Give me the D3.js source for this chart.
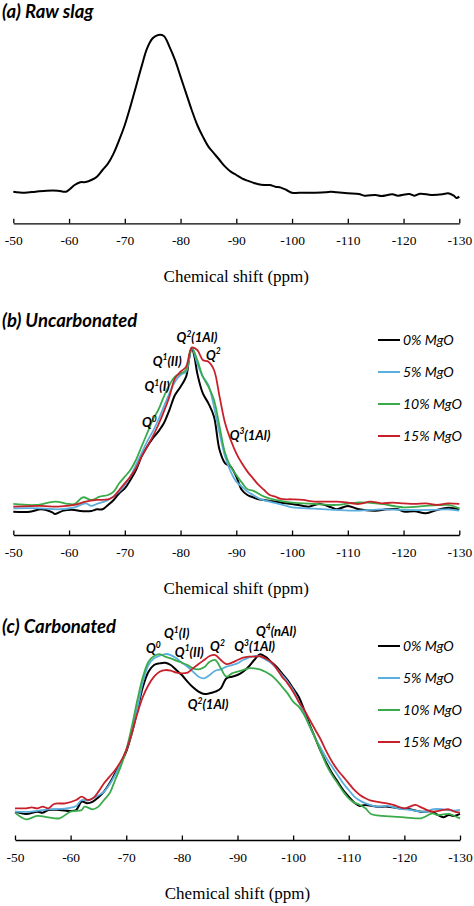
<!DOCTYPE html>
<html>
<head>
<meta charset="utf-8">
<script src="https://cdn.jsdelivr.net/npm/d3@7/dist/d3.min.js"></script>
<style>
  html, body { margin: 0; padding: 0; background: #fff; }
  svg { display: block; }
</style>
</head>
<body>
<svg id="chart" width="474" height="906"></svg>
<script>
// ---------------- DATA ----------------
const xTicks = [-50, -60, -70, -80, -90, -100, -110, -120, -130];
const axisTitle = "Chemical shift (ppm)";
const seriesNames = ["0% MgO", "5% MgO", "10% MgO", "15% MgO"];
const seriesColors = ["#000000", "#5aaee0", "#3aab4a", "#c8202a"];
const panelTitles = ["(a) Raw slag", "(b) Uncarbonated", "(c) Carbonated"];

// (a) raw slag: [ppm, intensity a.u.]
const rawSlag = [[-50,5],[-52,4.4],[-54,5],[-56,5.6],[-58,5.6],[-59.5,5],[-61,9],[-62,10.6],[-63,10.8],[-64,12],[-65,14],[-66,18],[-67,22],[-68,28],[-69,36],[-70,45],[-71,56],[-72,68],[-73,80],[-74,91],[-75,97],[-76,99],[-77,98.4],[-78,92],[-79,84],[-80,74],[-81,64],[-82,54],[-83,45],[-84,38],[-85,32],[-86,28],[-87,24],[-88,20],[-89,17],[-90,15],[-91,13],[-92,11.6],[-93,10.4],[-94,9.4],[-95,9],[-96,9],[-97,8],[-98,7.4],[-99,6],[-100,4.4],[-102,4.4],[-104,4.4],[-106,4.6],[-107,5],[-108,4.6],[-110,4],[-112,3.6],[-113,2.6],[-115,3],[-116,2.4],[-118,3.4],[-119,2.6],[-121,3.6],[-122,2.6],[-123,3.8],[-125,3],[-127,3.4],[-128,4],[-129,2.6],[-129.5,1.2],[-130,2]];

// (b) uncarbonated
const uncarb0 = [[-50,1],[-53,1],[-55,2.4],[-57,0.6],[-57.5,-0.4],[-59,1.6],[-61,2],[-62,1.4],[-64,1.4],[-65,2.4],[-66,2.4],[-67,5],[-68,8],[-69,12],[-70,15],[-71,20],[-72,26],[-73,34],[-74,40],[-75,45],[-76,49],[-77,54],[-78,62],[-79,71],[-80,76],[-81,82],[-81.5,92],[-82,99.4],[-82.5,94],[-83,84],[-84,72],[-85,66],[-86,58],[-87,38],[-88,30],[-89,28],[-90,22],[-91,14],[-92,11],[-93,9.6],[-94,8.4],[-95,8],[-96,7.4],[-97,7],[-98,6.4],[-100,5.6],[-102,4.4],[-103,4],[-105,5.6],[-107,3.6],[-108,2.4],[-110,4.4],[-112,2.4],[-115,1.6],[-117,2.4],[-119,2.4],[-120,1],[-122,1.2],[-124,0],[-126,2],[-128,3.4],[-130,2.4]];
const uncarb5 = [[-50,3],[-55,3],[-58,2.4],[-61,3.6],[-63,6],[-64,4.4],[-65,5.6],[-67,8],[-69,13],[-70,17],[-71,22],[-72,29],[-73,36],[-74,43],[-75,49],[-76,56],[-77,64],[-78,72],[-79,79],[-80,83],[-81,85],[-82,99.4],[-83,90],[-84,82],[-85,77],[-86,64],[-87,48],[-88,34],[-89,25],[-90,19],[-91,16],[-92,13],[-93,11],[-94,9],[-96,7],[-98,5.4],[-100,3.6],[-104,2.8],[-108,2],[-112,1.6],[-116,2.4],[-120,2],[-125,2],[-128,2.4],[-130,1.6]];
const uncarb10 = [[-50,5.6],[-54,5],[-57.5,7],[-60,5.6],[-61,5.6],[-62.5,9.6],[-64,8],[-65.5,10],[-67,11],[-68,13],[-69,18],[-70,22],[-71,26],[-72,32],[-73,40],[-74,48],[-75,56],[-76,62],[-77,70],[-78,77],[-79,82],[-80,84],[-81,86],[-82,99.4],[-83,92],[-84,82],[-85,76],[-86,68],[-87,52],[-88,36],[-89,28],[-90,23],[-91,18.4],[-92,14.4],[-93,13.6],[-95,10],[-97,8],[-100,6.4],[-104,5.6],[-108,5],[-112,6.6],[-116,5.6],[-120,3.6],[-124,4.4],[-128,5],[-130,3]];
const uncarb15 = [[-50,4],[-55,4.4],[-58,4],[-61,5],[-63,7],[-65,8],[-67,8.4],[-68,10],[-69,14],[-70,18],[-71,22],[-72,27],[-73,34],[-74,40],[-75,46],[-76,53],[-77,61],[-78,70],[-79,81],[-80,85],[-81,88],[-82,99.4],[-83,98],[-84,92],[-85,91],[-86,86],[-87,70],[-88,54],[-89,44],[-90,36],[-91,30],[-92,25],[-93,21],[-94,17],[-95,14],[-96,11],[-97,10],[-98,8.6],[-100,8.4],[-102,8],[-104,7],[-106,7],[-108,7],[-110,6.4],[-112,5.6],[-114,7],[-116,6],[-118,6.4],[-120,6],[-122,5.6],[-124,6],[-126,5],[-128,6],[-130,5.6]];

// (c) carbonated
const carb0 = [[-50,7],[-52,5.6],[-54,7],[-55,6.4],[-56,8],[-58,8],[-60,7.4],[-61,8],[-62,13],[-63,12],[-64,13],[-65,15.6],[-66,19],[-67,24],[-68,30],[-69,36],[-70,43],[-71,54],[-72,68],[-73,82],[-74,91],[-75,95],[-76,96],[-77,96.4],[-78,95],[-79,92],[-80,89],[-81,85],[-82,81.6],[-83,79],[-84,77.6],[-85,78],[-86,79],[-87,81],[-88,87],[-89,88],[-90,89],[-91,91],[-92,94],[-93,98],[-94,101.4],[-95,100],[-96,97],[-97,94],[-98,90],[-99,86],[-100,81],[-101,76],[-102,68],[-103,59],[-104,51],[-105,43],[-106,36],[-107,30],[-108,25],[-109,20],[-110,16],[-111,12.4],[-112,10.4],[-113,11],[-115,10],[-117,10],[-119,9],[-121,8.4],[-123,7],[-125,7],[-126,5],[-127,3.6],[-128,5],[-129,4.4],[-130,5.6]];
const carb5 = [[-50,7],[-53,7],[-56,8.4],[-59,8.8],[-61,10.4],[-62,14],[-63,13.6],[-64,15],[-66,19],[-68,29],[-70,44],[-71,54],[-72,69],[-73,85],[-74,95],[-75,99],[-76,100.6],[-77,101.6],[-78,101],[-79,99],[-80,96.4],[-81,94],[-82,91],[-83,88],[-84,87],[-85,89],[-86,91.6],[-87,92.4],[-88,94],[-89,95],[-90,96],[-91,98],[-92,99.4],[-93,100.4],[-94,100],[-95,98.4],[-96,96.4],[-97,93],[-98,89],[-99,85],[-100,80],[-101,73],[-102,66],[-103,58],[-104,51],[-105,45],[-106,39],[-107,34],[-108,29],[-109,24],[-110,20],[-111,16],[-112,13.6],[-113,12],[-115,10],[-117,10.4],[-119,8.8],[-121,8],[-123,7],[-124,7],[-125,8.4],[-127,8.4],[-129,7.6],[-130,8]];
const carb10 = [[-50,6.4],[-52,2.4],[-54,4.4],[-56,3.6],[-58,3],[-60,7],[-62,8],[-62.5,10],[-64,8.4],[-65,10],[-66,14],[-67,18],[-68,26],[-69,34],[-70,44],[-71,58],[-72,74],[-73,88],[-74,97],[-75,100.4],[-76,101.6],[-77,100],[-78,99],[-79,97.6],[-80,96.4],[-81,95],[-82,93],[-83,92.4],[-84,93.6],[-85,97],[-86,98],[-87,93],[-88,88],[-89,90],[-90,91],[-91,92],[-92,93],[-93,93],[-94,92.4],[-95,91],[-96,89],[-97,86],[-98,82],[-99,78],[-100,73],[-101,70],[-102,65],[-103,58],[-104,51],[-105,43],[-106,35],[-107,29],[-108,24],[-109,19],[-110,15],[-111,12.4],[-112,11],[-113,9],[-114,5.6],[-116,4.4],[-118,4],[-120,3.6],[-122,3],[-123,3],[-124,4.4],[-125,6],[-126,5],[-128,5.6],[-129,4.4],[-130,3]];
const carb15 = [[-50,9],[-52,9],[-53,9.6],[-54,9],[-55,10],[-56,9],[-57,11.6],[-59,12],[-61,14],[-62,16],[-63,14],[-64,15],[-65,19],[-66,24],[-67,28],[-68,32],[-69,37],[-70,44],[-71,54],[-72,66],[-73,76],[-74,83],[-75,88],[-76,91],[-77,92],[-78,91.6],[-79,90.4],[-80,90],[-81,90.4],[-82,93],[-83,95.6],[-84,98],[-85,100.4],[-86,101],[-87,98],[-88,95.6],[-89,96.4],[-90,98],[-91,99.4],[-92,100],[-93,100],[-94,100.4],[-95,99],[-96,97],[-97,93],[-98,88],[-99,84],[-100,79],[-101,73],[-102,68],[-103,62],[-104,56],[-105,50],[-106,43],[-107,37],[-108,32],[-109,28],[-110,24],[-111,20],[-112,17],[-113,15],[-114,13.6],[-116,12.4],[-118,11],[-120,9],[-121,10],[-122,11],[-123,9.6],[-125,7],[-127,8],[-128,8.4],[-129,7],[-130,6.4]];

// peak assignment labels: [base, superscript, rest, ppm, intensity]
const labelsB = [["Q","2","(1Al)",-82.95,102.8],["Q","1","(II)",-77.6,88.7],["Q","2","",-85.9,92.3],["Q","1","(I)",-75.8,73.4],["Q","0","",-74.4,51.8],["Q","3","(1Al)",-92.46,44]];
const labelsC = [["Q","0","",-74.87,102.2],["Q","1","(I)",-79.07,111.2],["Q","1","(II)",-81.34,100.1],["Q","2","",-86.4,103.4],["Q","3","(1Al)",-93.09,103.4],["Q","4","(nAl)",-96.92,112.7],["Q","2","(1Al)",-84.7,68.6]];

// ---------------- DRAW ----------------
const svg = d3.select("#chart");
const serifFont = "'Liberation Serif', 'Times New Roman', serif";
const sansFont = "Lato, 'Open Sans', sans-serif";

const panels = [
  {title: panelTitles[0], titleY: 18, x0: 13.3, x1: 459.3, axisY: 223.3, yI0: 200, yI100: 33.3,
   series: [rawSlag], colors: ["#000"], labels: [], legendYs: null},
  {title: panelTitles[1], titleY: 327, x0: 13.3, x1: 459.3, axisY: 535, yI0: 513.3, yI100: 346.7,
   series: [uncarb0, uncarb5, uncarb10, uncarb15], colors: seriesColors, labels: labelsB, legendYs: [340, 372, 404, 436]},
  {title: panelTitles[2], titleY: 633, x0: 15, x1: 460, axisY: 840, yI0: 823.3, yI100: 656.7,
   series: [carb0, carb5, carb10, carb15], colors: seriesColors, labels: labelsC, legendYs: [646, 678, 710, 742]}
];

panels.forEach(p => {
  const g = svg.append("g");
  const x = d3.scaleLinear().domain([-50, -130]).range([p.x0, p.x1]);
  const y = d3.scaleLinear().domain([0, 100]).range([p.yI0, p.yI100]);

  // title
  g.append("text")
    .attr("x", 2).attr("y", p.titleY)
    .attr("font-family", sansFont)
    .attr("font-weight", 700).attr("font-style", "italic")
    .attr("font-size", 18.5)
    .attr("fill", "#000")
    .text(p.title);

  // axis
  const axis = d3.axisBottom(x).tickValues(xTicks).tickSizeInner(-4.5).tickSizeOuter(0).tickPadding(12)
    .tickFormat(d => String(d));
  const ag = g.append("g").attr("transform", `translate(0,${p.axisY})`).call(axis);
  ag.select(".domain").attr("stroke", "#000").attr("stroke-width", 1.3);
  ag.selectAll(".tick line").attr("stroke", "#000").attr("stroke-width", 1.3);
  ag.selectAll(".tick text")
    .attr("font-family", serifFont).attr("font-size", 13.5).attr("fill", "#000");

  g.append("text")
    .attr("x", (p.x0 + p.x1) / 2).attr("y", p.axisY + 59)
    .attr("text-anchor", "middle")
    .attr("font-family", serifFont).attr("font-size", 17)
    .attr("fill", "#000")
    .text(axisTitle);

  // lines
  const line = d3.line().x(d => x(d[0])).y(d => y(d[1])).curve(d3.curveCatmullRom.alpha(0.5));
  p.series.forEach((s, i) => {
    g.append("path").datum(s)
      .attr("fill", "none")
      .attr("stroke", p.colors[i])
      .attr("stroke-width", i === 0 ? 2 : 1.8)
      .attr("stroke-linejoin", "round")
      .attr("d", line);
  });

  // labels
  p.labels.forEach(l => {
    const t = g.append("text")
      .attr("x", x(l[3])).attr("y", y(l[4]))
      .attr("text-anchor", "middle")
      .attr("font-family", sansFont).attr("font-weight", 700).attr("font-style", "italic")
      .attr("font-size", 13).attr("fill", "#000");
    t.append("tspan").text(l[0]);
    t.append("tspan").attr("font-size", 8.5).attr("dy", -5.5).text(l[1]);
    if (l[2]) t.append("tspan").attr("dy", 5.5).text(l[2]);
  });

  // legend
  if (p.legendYs) {
    seriesNames.forEach((name, i) => {
      const ly = p.legendYs[i];
      g.append("line")
        .attr("x1", 378).attr("x2", 400).attr("y1", ly).attr("y2", ly)
        .attr("stroke", seriesColors[i]).attr("stroke-width", 2);
      g.append("text")
        .attr("x", 403).attr("y", ly + 5)
        .attr("font-family", sansFont).attr("font-style", "italic")
        .attr("font-size", 14).attr("fill", "#000")
        .text(name);
    });
  }
});
</script>
</body>
</html>
